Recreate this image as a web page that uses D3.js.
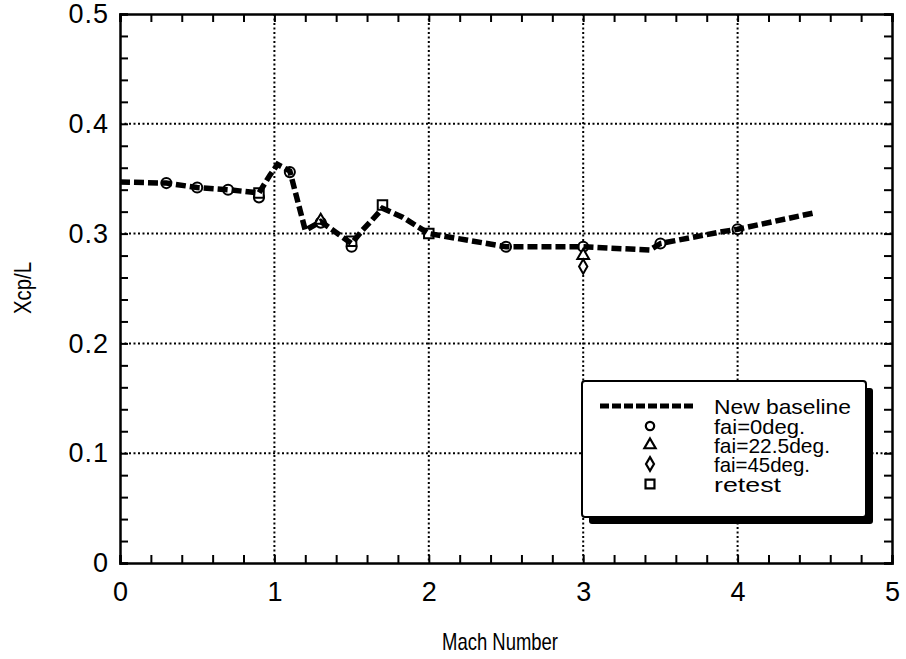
<!DOCTYPE html>
<html><head><meta charset="utf-8">
<script src="https://cdn.jsdelivr.net/npm/d3@7"></script>
<style>body{margin:0;background:#fff}svg{display:block}text{font-family:"Liberation Sans",Arial,Helvetica,sans-serif;fill:#000}</style>
</head><body><div id="c"></div>
<script>
const xTicks=[0,1,2,3,4,5];
const yTicks=[0,0.1,0.2,0.3,0.4,0.5];
const yTickLabels=["0","0.1","0.2","0.3","0.4","0.5"];
const baselineMach=[0,0.3,0.5,0.7,0.9,0.97,1.02,1.1,1.2,1.3,1.42,1.5,1.57,1.63,1.7,1.83,2.0,2.5,3.0,3.43,3.5,3.87,4.0,4.5];
const baselineXcp=[0.347,0.346,0.342,0.340,0.337,0.353,0.363,0.357,0.303,0.311,0.299,0.291,0.303,0.312,0.323,0.315,0.300,0.288,0.288,0.285,0.291,0.301,0.304,0.319];
const fai0Mach=[0.3,0.5,0.7,0.9,1.1,1.3,1.5,2.5,3.0,3.5,4.0];
const fai0Xcp=[0.346,0.342,0.340,0.333,0.356,0.310,0.288,0.288,0.288,0.291,0.304];
const fai22Mach=[1.3,3.0];
const fai22Xcp=[0.312,0.280];
const fai45Mach=[3.0];
const fai45Xcp=[0.270];
const retestMach=[0.9,1.5,1.7,2.0];
const retestXcp=[0.337,0.293,0.326,0.300];
const legendLabels=["New baseline","fai=0deg.","fai=22.5deg.","fai=45deg.","retest"];
const legendWidths=[137,91,116,96,67];

const W=906,H=659,L=120,R=892,T=14,B=563;
const svg=d3.select("#c").append("svg").attr("width",W).attr("height",H);
const x=d3.scaleLinear().domain([0,5]).range([L,R]);
const y=d3.scaleLinear().domain([0,0.5]).range([B,T]);

// grid
const g=svg.append("g");
g.selectAll(".gx").data(xTicks.slice(1,-1)).enter().append("line")
 .attr("x1",d=>x(d)).attr("x2",d=>x(d)).attr("y1",T).attr("y2",B)
 .attr("stroke","#000").attr("stroke-width",2).attr("stroke-dasharray","2,2.5");
g.selectAll(".gy").data(yTicks.slice(1,-1)).enter().append("line")
 .attr("x1",L).attr("x2",R).attr("y1",d=>y(d)).attr("y2",d=>y(d))
 .attr("stroke","#000").attr("stroke-width",2).attr("stroke-dasharray","2,2.5");

// axes with minor ticks
const xMinor=d3.range(0,5.001,0.2), yMinor=d3.range(0,0.5001,0.02);
function ax(axis,tr){return svg.append("g").attr("transform",tr).call(axis)}
const styleAx=s=>{s.select(".domain").attr("stroke-width",2.5);s.selectAll(".tick line").attr("stroke-width",2);};
styleAx(ax(d3.axisBottom(x).tickValues(xMinor).tickSize(-8).tickFormat(""),`translate(0,${B})`));
styleAx(ax(d3.axisTop(x).tickValues(xMinor).tickSize(-8).tickFormat(""),`translate(0,${T})`));
styleAx(ax(d3.axisLeft(y).tickValues(yMinor).tickSize(-8).tickFormat(""),`translate(${L},0)`));
styleAx(ax(d3.axisRight(y).tickValues(yMinor).tickSize(-8).tickFormat(""),`translate(${R},0)`));
const xl=ax(d3.axisBottom(x).tickValues(xTicks).tickSize(0).tickPadding(19).tickFormat(d3.format("d")),`translate(0,${B})`);
xl.select(".domain").remove();
xl.attr("font-size",null).attr("font-family",null);
xl.selectAll("text").style("font-size","27px");
const yl=ax(d3.axisLeft(y).tickValues(yTicks).tickSize(0).tickPadding(11).tickFormat((d,i)=>yTickLabels[i]),`translate(${L},0)`);
yl.select(".domain").remove();
yl.attr("font-size",null).attr("font-family",null);
yl.selectAll("text").style("font-size","27px").attr("letter-spacing",1);

svg.append("text").attr("x",(L+R)/2-6).attr("y",650).attr("text-anchor","middle").style("font-size","24px")
 .attr("textLength",116).attr("lengthAdjust","spacingAndGlyphs").text("Mach Number");
svg.append("text").attr("transform",`translate(31,${288}) rotate(-90)`).attr("text-anchor","middle").style("font-size","24px")
 .attr("textLength",52).attr("lengthAdjust","spacingAndGlyphs").text("Xcp/L");

// baseline
const line=d3.line().x(d=>x(d[0])).y(d=>y(d[1]));
const bdata=baselineMach.map((m,i)=>[m,baselineXcp[i]]);
function sym(type,size){return d3.symbol().type(type).size(size)()}
const mk=svg.append("g").attr("fill","#fff").attr("stroke","#000").attr("stroke-width",2);
function plot(ms,vs,type,size){ms.forEach((m,i)=>mk.append("path").attr("d",sym(type,size)).attr("transform",`translate(${x(m)},${y(vs[i])})`));}
plot(fai0Mach,fai0Xcp,d3.symbolCircle,80);
plot(fai22Mach,fai22Xcp,d3.symbolTriangle,60);
plot(fai45Mach,fai45Xcp,d3.symbolDiamond,60);
plot(retestMach,retestXcp,d3.symbolSquare,90);
svg.append("path").attr("d",line(bdata)).attr("fill","none").attr("stroke","#000").attr("stroke-width",5.5).attr("stroke-dasharray","10,4");

// legend
const lg=svg.append("g");
lg.append("rect").attr("x",589).attr("y",388).attr("width",284).attr("height",136).attr("rx",3).attr("fill","#000");
lg.append("rect").attr("x",582).attr("y",381).attr("width",284).attr("height",136).attr("rx",3).attr("fill","#fff").attr("stroke","#000").attr("stroke-width",2);
const rowY=[406,426,445,464,484];
lg.append("line").attr("x1",600).attr("x2",696).attr("y1",rowY[0]).attr("y2",rowY[0]).attr("stroke","#000").attr("stroke-width",5).attr("stroke-dasharray","9,3");
const lt=[d3.symbolCircle,d3.symbolTriangle,d3.symbolDiamond,d3.symbolSquare];
lt.forEach((t,i)=>lg.append("path").attr("d",sym(t,i==3?80:55)).attr("transform",`translate(650,${rowY[i+1]})`).attr("fill","#fff").attr("stroke","#000").attr("stroke-width",2.2));
legendLabels.forEach((s,i)=>lg.append("text").attr("x",714).attr("y",rowY[i]+8).style("font-size","21px")
 .attr("textLength",legendWidths[i]).attr("lengthAdjust","spacingAndGlyphs").text(s));
</script></body></html>
